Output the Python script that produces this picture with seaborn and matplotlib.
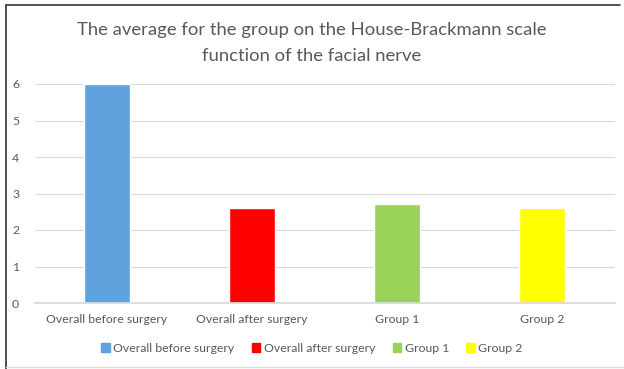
import matplotlib
matplotlib.use("Agg")
import matplotlib.pyplot as plt
import matplotlib.lines as mlines
import matplotlib.patches as mpatches
import seaborn as sns
import pandas as pd

categories = ["Overall before surgery", "Overall after surgery", "Group 1", "Group 2"]
averages = [6.0, 2.6, 2.7, 2.6]
bar_colors = ["#5fa2dd", "#ff0000", "#9bd35a", "#ffff00"]
y_ticks = [0, 1, 2, 3, 4, 5, 6]

df = pd.DataFrame({"category": categories, "average": averages})

sns.set_theme(style="white")
plt.rcParams["font.family"] = ["Lato", "DejaVu Sans"]
text_grey = "#595959"

fig = plt.figure(figsize=(6.24, 3.69), dpi=100)
ax = fig.add_axes([34.5 / 624, 1 - 303 / 369, 580 / 624, (303 - 84) / 369])

sns.barplot(data=df, x="category", y="average", hue="category",
            palette=bar_colors, width=0.317, ax=ax, legend=False,
            saturation=1)

ax.set_ylim(0, 6)
ax.set_xlim(-0.5, 3.5)
ax.set_yticks(y_ticks)
ax.yaxis.grid(True, color="#d9d9d9", linewidth=0.8)
ax.set_axisbelow(True)
for s in ["top", "right", "left"]:
    ax.spines[s].set_visible(False)
ax.spines["bottom"].set_color("#d9d9d9")
ax.tick_params(axis="both", colors=text_grey, labelsize=8.8, length=0)
ax.tick_params(axis="x", pad=8)
ax.tick_params(axis="y", pad=11)
ax.set_xlabel("")
ax.set_ylabel("")

fig.text(0.5, 1 - 30 / 369, "The average for the group on the House-Brackmann scale",
         ha="center", va="center", fontsize=13.3, color=text_grey)
fig.text(0.5, 1 - 56 / 369, "function of the facial nerve",
         ha="center", va="center", fontsize=13.3, color=text_grey)

handles = [mpatches.Patch(color=c, label=l) for c, l in zip(bar_colors, categories)]
fig.legend(handles=handles, loc="center", bbox_to_anchor=(0.5, 1 - 348 / 369),
           ncol=4, frameon=False, fontsize=8.8, handlelength=0.7, handleheight=0.7,
           handletextpad=0.3, columnspacing=1.4, labelcolor=text_grey)

# chart frame
fig.add_artist(mlines.Line2D([6 / 624, 6 / 624], [0, 1 - 5 / 369], color="#333333", lw=1.2))
fig.add_artist(mlines.Line2D([6 / 624, 620 / 624], [1 - 5 / 369, 1 - 5 / 369], color="#333333", lw=1.2))
fig.add_artist(mlines.Line2D([6 / 624, 1], [1 - 367 / 369, 1 - 367 / 369], color="#e0e0e0", lw=1))

fig.savefig("out.png", dpi=100)
